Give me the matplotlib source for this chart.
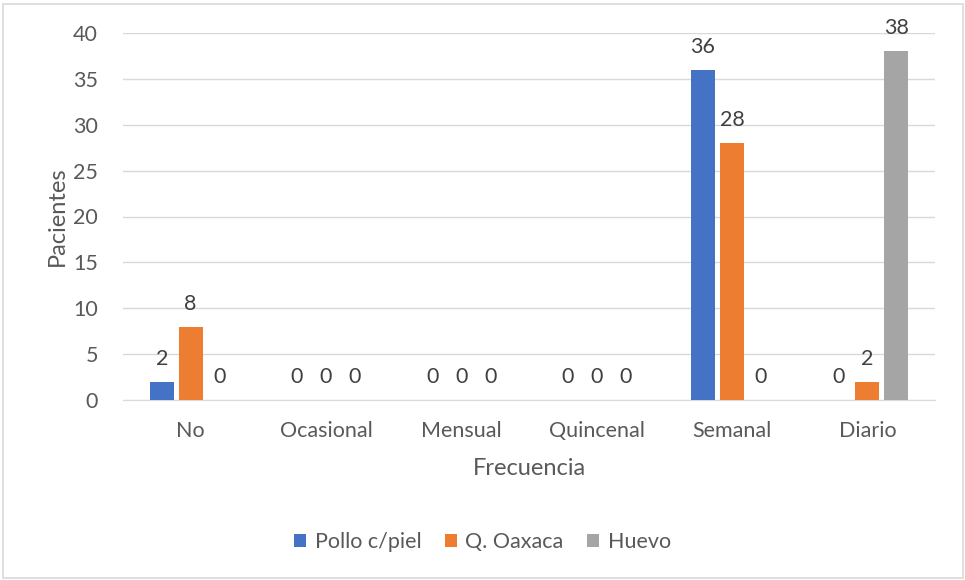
import matplotlib
matplotlib.use("Agg")
import matplotlib.pyplot as plt
from matplotlib.patches import Rectangle
import numpy as np

categories = ["No", "Ocasional", "Mensual", "Quincenal", "Semanal", "Diario"]
series_names = ["Pollo c/piel", "Q. Oaxaca", "Huevo"]
pollo = [2, 0, 0, 0, 36, 0]
oaxaca = [8, 0, 0, 0, 28, 2]
huevo = [0, 0, 0, 0, 0, 38]
colors = ["#4472C4", "#ED7D31", "#A5A5A5"]
yticks = [0, 5, 10, 15, 20, 25, 30, 35, 40]

plt.rcParams['font.family'] = ['Lato', 'DejaVu Sans']
txt = "#595959"
fs = 15.5

fig = plt.figure(figsize=(9.65, 5.8), dpi=100)
ax = fig.add_axes([123/965, 1-400/580, (935-123)/965, (400-33)/580])

x = np.arange(len(categories))
w = 0.177
off = 0.214
for i, (vals, name, c) in enumerate(zip([pollo, oaxaca, huevo], series_names, colors)):
    pos = x + (i-1)*off
    ax.bar(pos, vals, width=w, color=c, label=name, zorder=3)
    for p, v in zip(pos, vals):
        ax.annotate(str(v), (p, v), xytext=(0, 23), textcoords="offset pixels",
                    ha="center", va="center", fontsize=fs, color="#404040")

ax.set_xlim(-0.5, len(categories)-0.5)
ax.set_ylim(0, 40)
ax.set_yticks(yticks)
ax.grid(axis="y", color="#D9D9D9", linewidth=1, zorder=0)
for s in ["top", "right", "left"]:
    ax.spines[s].set_visible(False)
ax.spines["bottom"].set_color("#D9D9D9")
ax.tick_params(axis="both", length=0, labelsize=fs, colors=txt)
ax.tick_params(axis="x", pad=15)
ax.tick_params(axis="y", pad=18)
ax.set_xticks(x)
ax.set_xticklabels(categories)
ax.set_xlabel("Frecuencia", fontsize=17, color=txt, labelpad=12)
ax.set_ylabel("Pacientes", fontsize=17, color=txt, labelpad=4)

fig.legend(loc="center", bbox_to_anchor=(0.5, 1-542/580), ncol=3, frameon=False,
           fontsize=fs, labelcolor=txt, handlelength=0.55, handleheight=0.55,
           handletextpad=0.4, columnspacing=1.1)

fig.patches.append(Rectangle((3/965, 2/580), 960/965, 574/580, transform=fig.transFigure,
                             fill=False, edgecolor="#D9D9D9", linewidth=1.2))

fig.savefig("out.png", dpi=100)
